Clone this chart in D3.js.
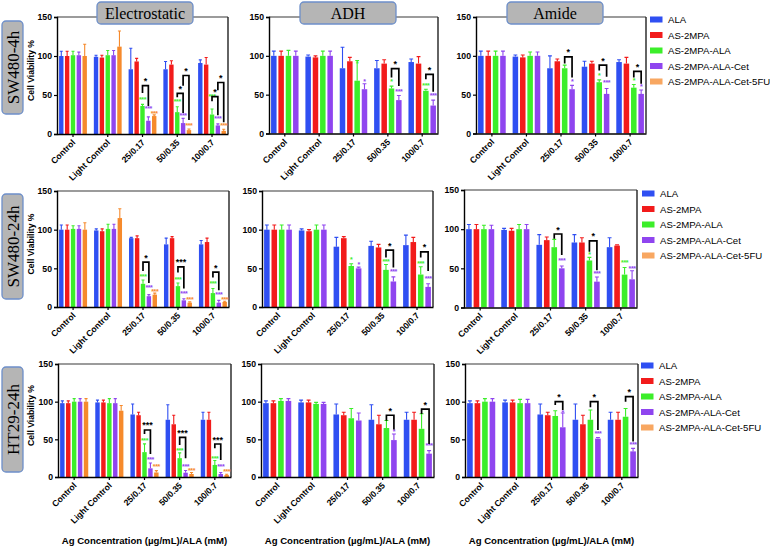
<!DOCTYPE html>
<html><head><meta charset="utf-8">
<script src="https://cdn.jsdelivr.net/npm/d3@7"></script>
<style>
html,body{margin:0;padding:0;background:#fff;}
svg{display:block;}
</style></head>
<body>
<svg id="c" width="770" height="548"></svg>
<script>
// ---------- DATA ----------
const categories = ["Control","Light Control","25/0.17","50/0.35","100/0.7"];
const seriesNames = ["ALA","AS-2MPA","AS-2MPA-ALA","AS-2MPA-ALA-Cet","AS-2MPA-ALA-Cet-5FU"];
const seriesColors = ["#2f4ff2","#f21b1b","#3cee2a","#8f45ef","#f68a2c"];
const rowLabels = ["SW480-4h","SW480-24h","HT29-24h"];
const panelTitles = ["Electrostatic","ADH","Amide"];
const yTicks = [0,50,100,150];
const xTitle = "Ag Concentration (µg/mL)/ALA (mM)";
const yTitle = "Cell Viability %";

// means [series][category], sd [series][category]
const sw4ElecMean = [[100,99,83,83,91],[100,98,93,89,89],[101,101,36,28,25],[101,101,17,14,11],[100,112,23,5,4]];
const sw4ElecSD   = [[6,2,27,10,4],[6,3,4,5,9],[5,6,2,7,7],[4,6,5,6,2],[15,20,1.5,1.5,2]];
const sw4AdhMean  = [[100,99,84,84,92],[100,98,93,90,90],[100,100,68,58,55],[100,100,57,43,36]];
const sw4AdhSD    = [[6,2,27,10,4],[6,2,5,5,9],[7,6,26,3,2],[6,6,7,6,7]];
const sw4AmiMean  = [[100,99,84,86,92],[100,98,93,90,90],[100,100,84,66,59],[100,100,57,51,51]];
const sw4AmiSD    = [[6,2,16,7,3],[6,3,3,3,8],[6,5,4,3,4],[6,5,5,7,5]];

const sw24ElecMean = [[100,99,89,81,81],[100,98,89,89,84],[101,101,30,27,18],[101,101,14,8.6,5.6],[100,115,16,5.6,6.5]];
const sw24ElecSD   = [[6,2,1,8,5],[6,3,3,2,5],[4,6,5,4,6],[4,6,2,2,3],[9,12,2,1,1]];
const sw24AdhMean  = [[100,99,78,79,80],[100,98,89,77,84],[100,100,53,48,42],[100,100,50,33,26]];
const sw24AdhSD    = [[6,2,12,6,13],[6,2,2,4,6],[6,6,3,7,10],[6,6,1.5,6,4]];
const sw24AmiMean  = [[100,99,80,83,77],[100,98,86,83,79],[100,100,77,60,42],[100,100,50,33,36]];
const sw24AmiSD    = [[6,2,13,10,12],[6,3,4,6,1],[5,6,10,4,9],[5,6,3,6,11]];

const ht24ElecMean = [[98,99,83,76,76],[98,99,82,70,76],[100,98,33,25,16],[100,98,11.5,5.7,4],[100,88,6,4,2.6]];
const ht24ElecSD   = [[3,3,14,20,10],[3,3,4,12,10],[4,6,11,7,6],[4,6,7,3,2],[4,7,2.5,2,1]];
const ht24AdhMean  = [[98,99,83,76,76],[98,99,82,70,76],[101,97,78,65,64],[101,97,75,49,31]];
const ht24AdhSD    = [[3,3,14,20,10],[3,3,4,12,10],[3,2,13,10,20],[3,2,10,8,4]];
const ht24AmiMean  = [[98,99,83,76,76],[98,99,82,70,76],[100,98,81,76,80],[100,98,66,51,34]];
const ht24AmiSD    = [[3,3,14,21,10],[3,3,4,12,10],[4,5,7,13,11],[4,5,19,1.5,4]];

// coloured significance marks: [category index, series index, value, label]
const sw4ElecStars = [[2,2,46,"***"],[2,3,34,"***"],[2,4,28,"***"],[3,2,44,"***"],[3,3,25.6,"***"],[3,4,13,"***"],[4,2,49.5,"***"],[4,3,22,"***"],[4,4,13,"***"]];
const sw4AdhStars  = [[2,2,92,"*"],[2,3,68.6,"*"],[3,2,68.6,"*"],[3,3,56.6,"***"],[4,2,64,"***"],[4,3,51.4,"***"]];
const sw4AmiStars  = [[2,3,68.6,"*"],[3,2,76,"*"],[3,3,67,"***"],[4,2,70,"*"],[4,3,62.6,"*"]];
const sw24ElecStars = [[2,2,42,"***"],[2,3,27,"***"],[2,4,21.6,"***"],[3,2,37.6,"***"],[3,3,19.5,"***"],[3,4,12,"***"],[4,2,32.4,"***"],[4,3,18.6,"***"],[4,4,12,"***"]];
const sw24AdhStars  = [[2,2,64,"*"],[2,3,57.5,"*"],[3,2,61.4,"***"],[3,3,47.6,"***"],[4,2,58.4,"***"],[4,3,39,"***"]];
const sw24AmiStars  = [[2,3,61.4,"***"],[3,2,70,"*"],[3,3,45,"***"],[4,2,59,"***"],[4,3,52,"***"]];
const ht24ElecStars = [[2,2,50,"***"],[2,3,24.8,"***"],[2,4,15.5,"***"],[3,2,36.7,"***"],[3,3,16,"***"],[3,4,10,"***"],[4,2,27,"***"],[4,3,16,"***"],[4,4,9.3,"***"]];
const ht24AdhStars  = [[3,3,62.4,"*"],[4,3,43.4,"***"]];
const ht24AmiStars  = [[2,3,88,"*"],[3,3,60,"***"],[4,3,44.7,"***"]];

// brackets: [category, left series, right series, top value, left end, right end, label]
const sw4ElecBrackets = [[2,2,3,62,52.5,36,"*"],[3,2,3,52,47,27,"*"],[3,3,4,75,62,18,"*"],[4,2,3,48,42,24,"*"],[4,3,4,66,56,15,"*"]];
const sw4AdhBrackets  = [[3,2,3,83.6,72,61,"*"],[4,2,3,76,70,53.6,"*"]];
const sw4AmiBrackets  = [[2,2,3,98.6,90,72,"*"],[3,2,3,88,81,73,"*"],[4,2,3,80,72,64,"*"]];
const sw24ElecBrackets = [[2,2,3,58,46.7,31,"*"],[3,2,3,52,44.5,23.8,"***"],[4,2,3,45,38,21.6,"*"]];
const sw24AdhBrackets  = [[3,2,3,73.5,64,51,"*"],[4,2,3,71.3,64,46.7,"*"]];
const sw24AmiBrackets  = [[2,2,3,93.8,87.8,67,"*"],[3,2,3,85,71.3,47.6,"*"]];
const ht24ElecBrackets = [[2,2,3,62.4,57,30.5,"***"],[3,2,3,52.6,42.5,24.8,"***"],[4,2,3,43.8,38,22.6,"***"]];
const ht24AdhBrackets  = [[3,2,3,82,74.8,63,"*"],[4,2,3,90,83.6,43.8,"*"]];
const ht24AmiBrackets  = [[2,2,3,100,95.6,89,"*"],[3,2,3,100,92.5,62.4,"*"],[4,2,3,106.6,100,47,"*"]];

// ---------- LAYOUT ----------
const panels = [
  {r:0,c:0,mean:sw4ElecMean,sd:sw4ElecSD,stars:sw4ElecStars,br:sw4ElecBrackets,f:[57,228,17,134]},
  {r:0,c:1,mean:sw4AdhMean,sd:sw4AdhSD,stars:sw4AdhStars,br:sw4AdhBrackets,f:[269,438,17,133.5]},
  {r:0,c:2,mean:sw4AmiMean,sd:sw4AmiSD,stars:sw4AmiStars,br:sw4AmiBrackets,f:[476,646,17,133.5]},
  {r:1,c:0,mean:sw24ElecMean,sd:sw24ElecSD,stars:sw24ElecStars,br:sw24ElecBrackets,f:[57,229,191,307]},
  {r:1,c:1,mean:sw24AdhMean,sd:sw24AdhSD,stars:sw24AdhStars,br:sw24AdhBrackets,f:[262,433,191,307]},
  {r:1,c:2,mean:sw24AmiMean,sd:sw24AmiSD,stars:sw24AmiStars,br:sw24AmiBrackets,f:[464,637,190,307.5]},
  {r:2,c:0,mean:ht24ElecMean,sd:ht24ElecSD,stars:ht24ElecStars,br:ht24ElecBrackets,f:[58,231,364,477]},
  {r:2,c:1,mean:ht24AdhMean,sd:ht24AdhSD,stars:ht24AdhStars,br:ht24AdhBrackets,f:[261,434,364,477]},
  {r:2,c:2,mean:ht24AmiMean,sd:ht24AmiSD,stars:ht24AmiStars,br:ht24AmiBrackets,f:[465,638,364,477]}
];
const SANS = "'Liberation Sans', Arial, sans-serif";
const SERIF = "'Liberation Serif', 'Times New Roman', serif";
const svg = d3.select("#c");

panels.forEach(p => {
  const [x0p,x1p,yt,yb] = p.f;
  const g = svg.append("g");
  const y = d3.scaleLinear().domain([0,150]).range([yb,yt]);
  const x = d3.scaleBand().domain(categories).range([x0p,x1p]).paddingInner(0.2).paddingOuter(0.06);
  const ns = p.mean.length;
  const xs = d3.scaleBand().domain(d3.range(ns)).range([0,x.bandwidth()]).paddingInner(0.25).paddingOuter(0);
  const bw = xs.bandwidth();
  const cx = (ci,si) => x(categories[ci]) + xs(si) + bw/2;

  // frame top & right
  g.append("line").attr("x1",x0p).attr("x2",x1p).attr("y1",yt).attr("y2",yt).attr("stroke","#7a7a7a").attr("stroke-width",1.4);
  g.append("line").attr("x1",x1p).attr("x2",x1p).attr("y1",yt).attr("y2",yb).attr("stroke","#222").attr("stroke-width",1.4);

  // bars
  p.mean.forEach((vals,si) => {
    const col = seriesColors[si];
    const sg = g.append("g");
    sg.selectAll("rect").data(vals).join("rect")
      .attr("x",(d,ci)=>x(categories[ci])+xs(si))
      .attr("y",d=>y(d)).attr("width",bw).attr("height",d=>yb-y(d))
      .attr("fill",col);
    sg.selectAll("path.err").data(vals).join("path").attr("class","err")
      .attr("d",(d,ci)=>{
        const xc = cx(ci,si), yt2 = y(d+p.sd[si][ci]);
        return `M${xc},${y(d)}V${yt2}M${xc-bw*0.35},${yt2}H${xc+bw*0.35}`;
      })
      .attr("stroke",col).attr("stroke-width",1.1).attr("fill","none");
  });

  // y axis
  const ya = g.append("g").attr("transform",`translate(${x0p},0)`)
    .call(d3.axisLeft(y).tickValues(yTicks).tickSize(3).tickPadding(2));
  ya.select(".domain").attr("stroke","#000").attr("stroke-width",1.4);
  ya.selectAll(".tick line").attr("stroke","#000").attr("stroke-width",1.2);
  ya.selectAll("text").attr("font-family",SANS).attr("font-weight","bold").attr("font-size",8.7).attr("fill","#000");

  // x axis
  const xa = g.append("g").attr("transform",`translate(0,${yb})`)
    .call(d3.axisBottom(x).tickSize(3).tickSizeOuter(0));
  xa.select(".domain").attr("stroke","#000").attr("stroke-width",1.4);
  xa.selectAll(".tick line").attr("stroke","#000").attr("stroke-width",1.2);
  xa.selectAll("text").attr("font-family",SANS).attr("font-weight","bold").attr("font-size",8.6).attr("fill","#000")
    .attr("text-anchor","end").attr("dy",0).attr("y",0)
    .attr("transform","translate(3,9) rotate(-45)");

  // coloured stars
  g.selectAll("text.star").data(p.stars).join("text").attr("class","star")
    .attr("x",d=>cx(d[0],d[1])).attr("y",d=>y(d[2])+4)
    .attr("text-anchor","middle").attr("font-family",SANS).attr("font-weight","bold").attr("font-size",7)
    .attr("letter-spacing",-0.4)
    .attr("fill",d=>seriesColors[d[1]]).text(d=>d[3]);

  // brackets
  g.selectAll("path.br").data(p.br).join("path").attr("class","br")
    .attr("d",d=>`M${cx(d[0],d[1])},${y(d[4])}V${y(d[3])}H${cx(d[0],d[2])}V${y(d[5])}`)
    .attr("stroke","#000").attr("stroke-width",1.7).attr("fill","none");
  g.selectAll("text.brl").data(p.br).join("text").attr("class","brl")
    .attr("x",d=>(cx(d[0],d[1])+cx(d[0],d[2]))/2).attr("y",d=>y(d[3])-1.5)
    .attr("text-anchor","middle").attr("font-family",SANS).attr("font-weight","bold").attr("font-size",9)
    .attr("fill","#000").text(d=>d[6]);

  // titles
  if (p.r===0) {
    const cxT = [145,348,555][p.c];
    g.append("rect").attr("x",cxT-48).attr("y",2).attr("width",96).attr("height",22).attr("rx",4)
      .attr("fill","#b5b5b5").attr("stroke","#6d8fca").attr("stroke-width",1.3);
    g.append("text").attr("x",cxT).attr("y",19).attr("text-anchor","middle")
      .attr("font-family",SERIF).attr("font-size",16).attr("fill","#000").text(panelTitles[p.c]);
  }
  if (p.c===0) {
    const yc = (yt+yb)/2 - 5;
    g.append("text").attr("transform",`translate(34,${yc}) rotate(-90)`).attr("text-anchor","middle")
      .attr("font-family",SANS).attr("font-weight","bold").attr("font-size",8.6).attr("fill","#000").text(yTitle);
    const bx = [[21,114],[194,299],[367,472]][p.r];
    g.append("rect").attr("x",2).attr("y",bx[0]).attr("width",21).attr("height",bx[1]-bx[0]).attr("rx",4)
      .attr("fill","#b5b5b5").attr("stroke","#6d8fca").attr("stroke-width",1.3);
    g.append("text").attr("transform",`translate(18.5,${(bx[0]+bx[1])/2}) rotate(-90)`).attr("text-anchor","middle")
      .attr("font-family",SERIF).attr("font-size",17).attr("fill","#000").text(rowLabels[p.r]);
  }
  if (p.r===2) {
    g.append("text").attr("x",(x0p+x1p)/2).attr("y",544).attr("text-anchor","middle")
      .attr("font-family",SANS).attr("font-weight","bold").attr("font-size",9.6).attr("fill","#000").text(xTitle);
  }
  if (p.c===2) {
    const lx = [650,642,641][p.r];
    const ly0 = [19.5,193.5,365.5][p.r];
    const lg = g.append("g");
    seriesNames.forEach((nm,i)=>{
      lg.append("rect").attr("x",lx).attr("y",ly0+i*15.5-3).attr("width",12.5).attr("height",6)
        .attr("fill",seriesColors[i]).attr("opacity",i===4?0.75:1);
      lg.append("text").attr("x",lx+18).attr("y",ly0+i*15.5+3.5)
        .attr("font-family",SANS).attr("font-size",9.6).attr("fill","#000").text(nm);
    });
  }
});
</script>
</body></html>
